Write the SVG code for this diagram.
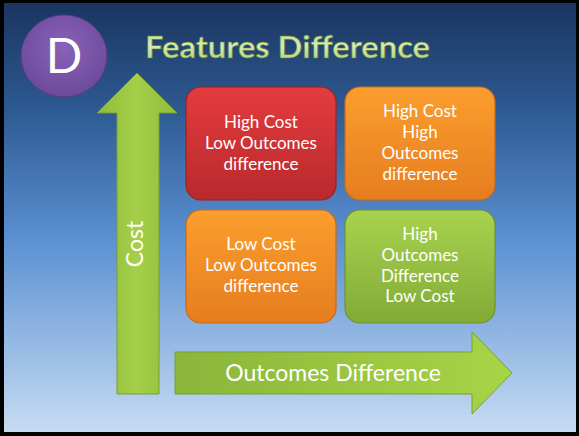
<svg xmlns="http://www.w3.org/2000/svg" width="579" height="436" viewBox="0 0 579 436">
<defs>
  <linearGradient id="bg" x1="0" y1="0" x2="0" y2="1">
    <stop offset="0" stop-color="#1b3560"/>
    <stop offset="0.25" stop-color="#2d5a92"/>
    <stop offset="0.55" stop-color="#5b90d2"/>
    <stop offset="1" stop-color="#c6dcf2"/>
  </linearGradient>
  <radialGradient id="circ" cx="0.5" cy="0.4" r="0.6">
    <stop offset="0" stop-color="#8a62b8"/>
    <stop offset="1" stop-color="#6c4a9a"/>
  </radialGradient>
  <linearGradient id="red" x1="0" y1="0" x2="0" y2="1">
    <stop offset="0" stop-color="#e43c3e"/>
    <stop offset="1" stop-color="#b8292c"/>
  </linearGradient>
  <linearGradient id="org" x1="0" y1="0" x2="0" y2="1">
    <stop offset="0" stop-color="#fb9e2e"/>
    <stop offset="1" stop-color="#e67d1f"/>
  </linearGradient>
  <linearGradient id="grn" x1="0" y1="0" x2="0" y2="1">
    <stop offset="0" stop-color="#a8d24e"/>
    <stop offset="1" stop-color="#82ab37"/>
  </linearGradient>
  <linearGradient id="arrV" x1="0" y1="0" x2="1" y2="0">
    <stop offset="0" stop-color="#8fbc3c"/>
    <stop offset="0.5" stop-color="#a5cf48"/>
    <stop offset="1" stop-color="#8fbc3c"/>
  </linearGradient>
  <linearGradient id="arrH" x1="0" y1="0" x2="1" y2="0">
    <stop offset="0" stop-color="#8ab63a"/>
    <stop offset="1" stop-color="#a8d448"/>
  </linearGradient>
  <linearGradient id="title" x1="0" y1="0" x2="0" y2="1">
    <stop offset="0" stop-color="#b6d878"/>
    <stop offset="0.5" stop-color="#d8ebb4"/>
    <stop offset="1" stop-color="#a9cc6a"/>
  </linearGradient>
</defs>
<style>
  .box { stroke-width: 1.2; }
  .bt { font-family: Lato, "Open Sans", sans-serif; font-size: 17px; fill: #ffffff; text-anchor: middle; }
  .ax { font-family: Lato, "Open Sans", sans-serif; font-size: 23px; fill: #ffffff; text-anchor: middle; }
</style>
<rect x="0" y="0" width="579" height="436" fill="#000000"/>
<rect x="4" y="3" width="572" height="429" fill="url(#bg)"/>

<g id="badge">
  <ellipse cx="64" cy="56" rx="43" ry="41" fill="url(#circ)" stroke="#5a3d82" stroke-width="1"/>
  <text x="64" y="73" font-family="Lato, 'Open Sans', sans-serif" font-size="48" fill="#ffffff" text-anchor="middle">D</text>
</g>

<g id="title-text">
  <text x="145" y="58" font-family="Lato, 'Open Sans', sans-serif" font-weight="bold" font-size="31" fill="url(#title)" stroke="#5f7e35" stroke-width="0.6" textLength="285" lengthAdjust="spacingAndGlyphs">Features Difference</text>
</g>

<g id="cost-arrow">
  <polygon points="137,73 177,113 159,113 159,394 117,394 117,113 97,113" fill="url(#arrV)" stroke="#7a9e34" stroke-width="1"/>
  <text class="ax" transform="translate(143,244) rotate(-90)">Cost</text>
</g>

<g id="outcomes-arrow">
  <polygon points="175,352 472,352 472,332 512,373 472,414 472,394 175,394" fill="url(#arrH)" stroke="#7a9e34" stroke-width="1"/>
  <text class="ax" x="333" y="381">Outcomes Difference</text>
</g>

<g id="box-high-cost-low-out">
  <rect class="box" x="186" y="87" width="150" height="113" rx="15" fill="url(#red)" stroke="#9a2226"/>
  <text class="bt" x="261" y="128">High Cost</text>
  <text class="bt" x="261" y="149">Low Outcomes</text>
  <text class="bt" x="261" y="170">difference</text>
</g>

<g id="box-high-cost-high-out">
  <rect class="box" x="345" y="87" width="150" height="113" rx="15" fill="url(#org)" stroke="#c96a1a"/>
  <text class="bt" x="420" y="117">High Cost</text>
  <text class="bt" x="420" y="138">High</text>
  <text class="bt" x="420" y="159">Outcomes</text>
  <text class="bt" x="420" y="180">difference</text>
</g>

<g id="box-low-cost-low-out">
  <rect class="box" x="186" y="210" width="150" height="113" rx="15" fill="url(#org)" stroke="#c96a1a"/>
  <text class="bt" x="261" y="250">Low Cost</text>
  <text class="bt" x="261" y="271">Low Outcomes</text>
  <text class="bt" x="261" y="292">difference</text>
</g>

<g id="box-high-out-low-cost">
  <rect class="box" x="345" y="210" width="150" height="113" rx="15" fill="url(#grn)" stroke="#6e9330"/>
  <text class="bt" x="420" y="240">High</text>
  <text class="bt" x="420" y="261">Outcomes</text>
  <text class="bt" x="420" y="282">Difference</text>
  <text class="bt" x="420" y="302">Low Cost</text>
</g>
</svg>
